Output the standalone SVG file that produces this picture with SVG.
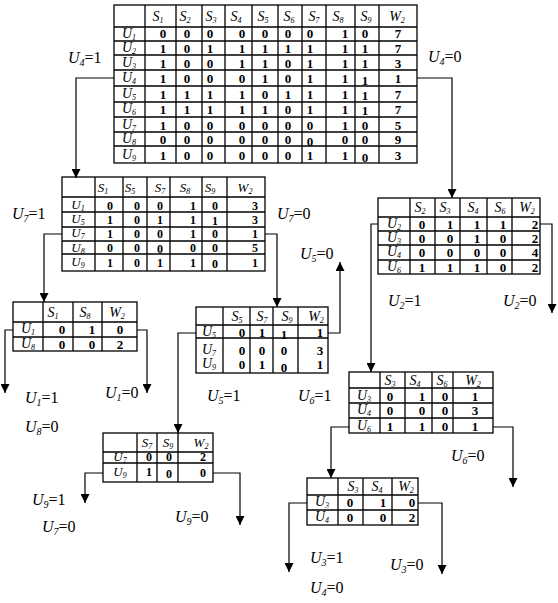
<svg xmlns="http://www.w3.org/2000/svg" width="558" height="603" viewBox="0 0 558 603">
<style>
.t{fill:none;stroke:#000;stroke-width:1.3}
.n{font-family:"Liberation Serif",serif;font-weight:bold;font-size:13px;text-anchor:middle}
.h{font-family:"Liberation Serif",serif;font-style:italic;font-size:14px;text-anchor:middle}
.s{font-size:8px}
#table2 .n,#table7 .n{font-size:12px}
#table2 .h,#table7 .h{font-size:13px}
#table2 .h .s,#table7 .h .s{font-size:8px}
.l{font-family:"Liberation Serif",serif;font-size:16px}
.l .i{font-style:italic}
.l .s{font-size:10px;font-style:italic}
.c{fill:none;stroke:#000;stroke-width:1.2;marker-end:url(#a)}
</style>
<defs>
<marker id="a" markerUnits="userSpaceOnUse" markerWidth="9" markerHeight="9" refX="9" refY="4.5" orient="auto" viewBox="0 0 9 9"><path d="M0,0L9,4.5L0,9z" fill="#000"/></marker>
</defs>
<rect width="558" height="603" fill="#fff"/>

<g id="connectors">
<path class="c" d="M114,78H76V178"/>
<path class="c" d="M417,78H452V198"/>
<path class="c" d="M62,234H44V302"/>
<path class="c" d="M265,234H277V307"/>
<path class="c" d="M378,224H371V372"/>
<path class="c" d="M540,224H552V313"/>
<path class="c" d="M13,330H5V393"/>
<path class="c" d="M137,330H147V393"/>
<path class="c" d="M196,333H178V433"/>
<path class="c" d="M328,333H340V262"/>
<path class="c" d="M349,427H331V478"/>
<path class="c" d="M493,427H513V487"/>
<path class="c" d="M103,473H85V503"/>
<path class="c" d="M213,473H240V525"/>
<path class="c" d="M307,503H289V572"/>
<path class="c" d="M418,503H442V574"/>
</g>

<g id="labels">
<text class="l" x="68" y="63"><tspan class="i">U</tspan><tspan class="s" dy="3">4</tspan><tspan dy="-3">=1</tspan></text>
<text class="l" x="428" y="62"><tspan class="i">U</tspan><tspan class="s" dy="3">4</tspan><tspan dy="-3">=0</tspan></text>
<text class="l" x="12" y="219"><tspan class="i">U</tspan><tspan class="s" dy="3">7</tspan><tspan dy="-3">=1</tspan></text>
<text class="l" x="277" y="219"><tspan class="i">U</tspan><tspan class="s" dy="3">7</tspan><tspan dy="-3">=0</tspan></text>
<text class="l" x="388" y="306"><tspan class="i">U</tspan><tspan class="s" dy="3">2</tspan><tspan dy="-3">=1</tspan></text>
<text class="l" x="503" y="306"><tspan class="i">U</tspan><tspan class="s" dy="3">2</tspan><tspan dy="-3">=0</tspan></text>
<text class="l" x="300" y="259"><tspan class="i">U</tspan><tspan class="s" dy="3">5</tspan><tspan dy="-3">=0</tspan></text>
<text class="l" x="25" y="403"><tspan class="i">U</tspan><tspan class="s" dy="3">1</tspan><tspan dy="-3">=1</tspan></text>
<text class="l" x="25" y="432"><tspan class="i">U</tspan><tspan class="s" dy="3">8</tspan><tspan dy="-3">=0</tspan></text>
<text class="l" x="105" y="398"><tspan class="i">U</tspan><tspan class="s" dy="3">1</tspan><tspan dy="-3">=0</tspan></text>
<text class="l" x="207" y="401"><tspan class="i">U</tspan><tspan class="s" dy="3">5</tspan><tspan dy="-3">=1</tspan></text>
<text class="l" x="298" y="401"><tspan class="i">U</tspan><tspan class="s" dy="3">6</tspan><tspan dy="-3">=1</tspan></text>
<text class="l" x="451" y="461"><tspan class="i">U</tspan><tspan class="s" dy="3">6</tspan><tspan dy="-3">=0</tspan></text>
<text class="l" x="32" y="505"><tspan class="i">U</tspan><tspan class="s" dy="3">9</tspan><tspan dy="-3">=1</tspan></text>
<text class="l" x="42" y="532"><tspan class="i">U</tspan><tspan class="s" dy="3">7</tspan><tspan dy="-3">=0</tspan></text>
<text class="l" x="175" y="522"><tspan class="i">U</tspan><tspan class="s" dy="3">9</tspan><tspan dy="-3">=0</tspan></text>
<text class="l" x="310" y="563"><tspan class="i">U</tspan><tspan class="s" dy="3">3</tspan><tspan dy="-3">=1</tspan></text>
<text class="l" x="310" y="593"><tspan class="i">U</tspan><tspan class="s" dy="3">4</tspan><tspan dy="-3">=0</tspan></text>
<text class="l" x="390" y="570"><tspan class="i">U</tspan><tspan class="s" dy="3">3</tspan><tspan dy="-3">=0</tspan></text>
</g>

<g id="table1">
<rect class="t" x="114" y="5" width="303" height="158"/>
<path class="t" d="M114,27H417M114,41H417M114,55H417M114,70H417M114,86H417M114,102H417M114,117H417M114,132H417M114,146H417M145,5V163M176,5V163M202,5V163M225,5V163M252,5V163M278,5V163M302,5V163M326,5V163M355,5V163M379,5V163"/>
<text class="h" x="158" y="21">S<tspan class="s" dy="2">1</tspan></text>
<text class="h" x="185" y="21">S<tspan class="s" dy="2">2</tspan></text>
<text class="h" x="211" y="21">S<tspan class="s" dy="2">3</tspan></text>
<text class="h" x="236" y="21">S<tspan class="s" dy="2">4</tspan></text>
<text class="h" x="263" y="21">S<tspan class="s" dy="2">5</tspan></text>
<text class="h" x="289" y="21">S<tspan class="s" dy="2">6</tspan></text>
<text class="h" x="314" y="21">S<tspan class="s" dy="2">7</tspan></text>
<text class="h" x="338" y="21">S<tspan class="s" dy="2">8</tspan></text>
<text class="h" x="366" y="21">S<tspan class="s" dy="2">9</tspan></text>
<text class="h" x="397" y="21">W<tspan class="s" dy="2">2</tspan></text>
<text class="h" x="129" y="38">U<tspan class="s" dy="2">1</tspan></text>
<text class="h" x="129" y="52">U<tspan class="s" dy="2">2</tspan></text>
<text class="h" x="129" y="67">U<tspan class="s" dy="2">3</tspan></text>
<text class="h" x="129" y="82">U<tspan class="s" dy="2">4</tspan></text>
<text class="h" x="129" y="98">U<tspan class="s" dy="2">5</tspan></text>
<text class="h" x="129" y="113">U<tspan class="s" dy="2">6</tspan></text>
<text class="h" x="129" y="129">U<tspan class="s" dy="2">7</tspan></text>
<text class="h" x="129" y="143">U<tspan class="s" dy="2">8</tspan></text>
<text class="h" x="129" y="159">U<tspan class="s" dy="2">9</tspan></text>
<!-- U1 -->
<text class="n" x="163" y="38">0</text><text class="n" x="187" y="38">0</text><text class="n" x="210" y="38">0</text><text class="n" x="242" y="38">0</text><text class="n" x="265" y="38">0</text><text class="n" x="288" y="38">0</text><text class="n" x="310" y="38">0</text><text class="n" x="345" y="38">1</text><text class="n" x="365" y="38">0</text><text class="n" x="398" y="38">7</text>
<!-- U2 -->
<text class="n" x="163" y="53">1</text><text class="n" x="187" y="53">0</text><text class="n" x="210" y="53">1</text><text class="n" x="242" y="53">1</text><text class="n" x="265" y="53">1</text><text class="n" x="288" y="53">1</text><text class="n" x="310" y="53">1</text><text class="n" x="345" y="53">1</text><text class="n" x="365" y="53">1</text><text class="n" x="398" y="53">7</text>
<!-- U3 -->
<text class="n" x="163" y="68">1</text><text class="n" x="187" y="68">0</text><text class="n" x="210" y="68">0</text><text class="n" x="242" y="68">1</text><text class="n" x="265" y="68">1</text><text class="n" x="288" y="68">0</text><text class="n" x="310" y="68">1</text><text class="n" x="345" y="68">1</text><text class="n" x="365" y="68">1</text><text class="n" x="398" y="68">3</text>
<!-- U4 -->
<text class="n" x="163" y="83">1</text><text class="n" x="187" y="83">0</text><text class="n" x="210" y="83">0</text><text class="n" x="242" y="83">0</text><text class="n" x="265" y="83">1</text><text class="n" x="288" y="83">0</text><text class="n" x="310" y="83">1</text><text class="n" x="345" y="83">1</text><text class="n" x="365" y="85">1</text><text class="n" x="398" y="83">1</text>
<!-- U5 -->
<text class="n" x="163" y="99">1</text><text class="n" x="187" y="99">1</text><text class="n" x="210" y="99">1</text><text class="n" x="242" y="99">1</text><text class="n" x="265" y="99">0</text><text class="n" x="288" y="99">1</text><text class="n" x="310" y="99">1</text><text class="n" x="345" y="99">1</text><text class="n" x="365" y="100">1</text><text class="n" x="398" y="99">7</text>
<!-- U6 -->
<text class="n" x="163" y="114">1</text><text class="n" x="187" y="114">1</text><text class="n" x="210" y="114">1</text><text class="n" x="242" y="114">1</text><text class="n" x="265" y="114">1</text><text class="n" x="288" y="114">0</text><text class="n" x="310" y="114">1</text><text class="n" x="345" y="114">1</text><text class="n" x="365" y="115">1</text><text class="n" x="398" y="114">7</text>
<!-- U7 -->
<text class="n" x="163" y="130">1</text><text class="n" x="187" y="130">0</text><text class="n" x="210" y="130">0</text><text class="n" x="242" y="130">0</text><text class="n" x="265" y="130">0</text><text class="n" x="288" y="130">0</text><text class="n" x="310" y="130">0</text><text class="n" x="345" y="130">1</text><text class="n" x="365" y="130">0</text><text class="n" x="398" y="130">5</text>
<!-- U8 -->
<text class="n" x="163" y="144">0</text><text class="n" x="187" y="144">0</text><text class="n" x="210" y="144">0</text><text class="n" x="242" y="144">0</text><text class="n" x="265" y="144">0</text><text class="n" x="288" y="144">0</text><text class="n" x="310" y="146">0</text><text class="n" x="345" y="144">0</text><text class="n" x="365" y="144">0</text><text class="n" x="398" y="144">9</text>
<!-- U9 -->
<text class="n" x="163" y="160">1</text><text class="n" x="187" y="160">0</text><text class="n" x="210" y="160">0</text><text class="n" x="242" y="160">0</text><text class="n" x="265" y="160">0</text><text class="n" x="288" y="160">0</text><text class="n" x="310" y="160">1</text><text class="n" x="345" y="160">1</text><text class="n" x="365" y="162">0</text><text class="n" x="398" y="160">3</text>
</g>

<g id="table2">
<rect class="t" x="62" y="177" width="203" height="94"/>
<path class="t" d="M62,197H265M62,212H265M62,227H265M62,241H265M62,254H265M95,177V271M123,177V271M147,177V271M170,177V271M202,177V271M227,177V271"/>
<text class="h" x="103" y="192">S<tspan class="s" dy="2">1</tspan></text>
<text class="h" x="130" y="192">S<tspan class="s" dy="2">5</tspan></text>
<text class="h" x="160" y="192">S<tspan class="s" dy="2">7</tspan></text>
<text class="h" x="185" y="192">S<tspan class="s" dy="2">8</tspan></text>
<text class="h" x="210" y="192">S<tspan class="s" dy="2">9</tspan></text>
<text class="h" x="245" y="192">W<tspan class="s" dy="2">2</tspan></text>
<text class="h" x="78" y="209">U<tspan class="s" dy="2">1</tspan></text>
<text class="h" x="78" y="223">U<tspan class="s" dy="2">5</tspan></text>
<text class="h" x="78" y="237">U<tspan class="s" dy="2">7</tspan></text>
<text class="h" x="78" y="252">U<tspan class="s" dy="2">8</tspan></text>
<text class="h" x="78" y="266">U<tspan class="s" dy="2">9</tspan></text>
<text class="n" x="110" y="210">0</text><text class="n" x="137" y="210">0</text><text class="n" x="160" y="210">0</text><text class="n" x="193" y="210">1</text><text class="n" x="215" y="210">0</text><text class="n" x="255" y="210">3</text>
<text class="n" x="110" y="224">1</text><text class="n" x="137" y="224">0</text><text class="n" x="160" y="224">1</text><text class="n" x="193" y="224">1</text><text class="n" x="215" y="225">1</text><text class="n" x="255" y="224">3</text>
<text class="n" x="110" y="238">1</text><text class="n" x="137" y="238">0</text><text class="n" x="160" y="238">0</text><text class="n" x="193" y="238">1</text><text class="n" x="215" y="238">0</text><text class="n" x="255" y="238">1</text>
<text class="n" x="110" y="252">0</text><text class="n" x="137" y="252">0</text><text class="n" x="160" y="253">0</text><text class="n" x="193" y="252">0</text><text class="n" x="215" y="252">0</text><text class="n" x="255" y="252">5</text>
<text class="n" x="110" y="267">1</text><text class="n" x="137" y="267">0</text><text class="n" x="160" y="267">1</text><text class="n" x="193" y="267">1</text><text class="n" x="215" y="268">0</text><text class="n" x="255" y="267">1</text>
</g>

<g id="table3">
<rect class="t" x="378" y="198" width="162" height="76"/>
<path class="t" d="M378,217H540M378,231H540M378,245H540M378,260H540M410,198V274M435,198V274M460,198V274M487,198V274M512,198V274"/>
<text class="h" x="420" y="212">S<tspan class="s" dy="2">2</tspan></text>
<text class="h" x="445" y="212">S<tspan class="s" dy="2">3</tspan></text>
<text class="h" x="473" y="212">S<tspan class="s" dy="2">4</tspan></text>
<text class="h" x="500" y="212">S<tspan class="s" dy="2">6</tspan></text>
<text class="h" x="527" y="212">W<tspan class="s" dy="2">2</tspan></text>
<text class="h" x="394" y="228">U<tspan class="s" dy="2">2</tspan></text>
<text class="h" x="394" y="242">U<tspan class="s" dy="2">3</tspan></text>
<text class="h" x="394" y="256">U<tspan class="s" dy="2">4</tspan></text>
<text class="h" x="394" y="271">U<tspan class="s" dy="2">6</tspan></text>
<text class="n" x="422" y="229">0</text><text class="n" x="450" y="229">1</text><text class="n" x="477" y="229">1</text><text class="n" x="503" y="229">1</text><text class="n" x="535" y="229">2</text>
<text class="n" x="422" y="243">0</text><text class="n" x="450" y="243">0</text><text class="n" x="477" y="243">1</text><text class="n" x="503" y="243">0</text><text class="n" x="535" y="243">2</text>
<text class="n" x="422" y="257">0</text><text class="n" x="450" y="257">0</text><text class="n" x="477" y="257">0</text><text class="n" x="503" y="257">0</text><text class="n" x="535" y="257">4</text>
<text class="n" x="422" y="272">1</text><text class="n" x="450" y="272">1</text><text class="n" x="477" y="272">1</text><text class="n" x="503" y="272">0</text><text class="n" x="535" y="272">2</text>
</g>

<g id="table4">
<rect class="t" x="13" y="302" width="124" height="49"/>
<path class="t" d="M13,322H137M13,337H137M43,302V351M73,302V351M102,302V351"/>
<text class="h" x="53" y="317">S<tspan class="s" dy="2">1</tspan></text>
<text class="h" x="85" y="317">S<tspan class="s" dy="2">8</tspan></text>
<text class="h" x="117" y="317">W<tspan class="s" dy="2">2</tspan></text>
<text class="h" x="28" y="333">U<tspan class="s" dy="2">1</tspan></text>
<text class="h" x="28" y="348">U<tspan class="s" dy="2">8</tspan></text>
<text class="n" x="62" y="334">0</text><text class="n" x="92" y="334">1</text><text class="n" x="120" y="334">0</text>
<text class="n" x="62" y="349">0</text><text class="n" x="92" y="349">0</text><text class="n" x="120" y="349">2</text>
</g>

<g id="table5">
<rect class="t" x="196" y="307" width="132" height="66"/>
<path class="t" d="M196,325H328M196,338H328M223,307V373M250,307V373M273,307V373M298,307V373"/>
<text class="h" x="237" y="321">S<tspan class="s" dy="2">5</tspan></text>
<text class="h" x="262" y="321">S<tspan class="s" dy="2">7</tspan></text>
<text class="h" x="287" y="321">S<tspan class="s" dy="2">9</tspan></text>
<text class="h" x="316" y="321">W<tspan class="s" dy="2">2</tspan></text>
<text class="h" x="209" y="336">U<tspan class="s" dy="2">5</tspan></text>
<text class="h" x="209" y="354">U<tspan class="s" dy="2">7</tspan></text>
<text class="h" x="209" y="368">U<tspan class="s" dy="2">9</tspan></text>
<text class="n" x="242" y="337">0</text><text class="n" x="262" y="337">1</text><text class="n" x="284" y="339">1</text><text class="n" x="320" y="337">1</text>
<text class="n" x="242" y="355">0</text><text class="n" x="262" y="355">0</text><text class="n" x="284" y="355">0</text><text class="n" x="320" y="355">3</text>
<text class="n" x="242" y="369">0</text><text class="n" x="262" y="369">1</text><text class="n" x="284" y="372">0</text><text class="n" x="320" y="369">1</text>
</g>

<g id="table6">
<rect class="t" x="349" y="372" width="144" height="61"/>
<path class="t" d="M349,388H493M349,403H493M349,418H493M380,372V433M405,372V433M432,372V433M453,372V433"/>
<text class="h" x="390" y="385">S<tspan class="s" dy="2">3</tspan></text>
<text class="h" x="415" y="385">S<tspan class="s" dy="2">4</tspan></text>
<text class="h" x="442" y="385">S<tspan class="s" dy="2">6</tspan></text>
<text class="h" x="473" y="385">W<tspan class="s" dy="2">2</tspan></text>
<text class="h" x="364" y="400">U<tspan class="s" dy="2">3</tspan></text>
<text class="h" x="364" y="414">U<tspan class="s" dy="2">4</tspan></text>
<text class="h" x="364" y="430">U<tspan class="s" dy="2">6</tspan></text>
<text class="n" x="390" y="401">0</text><text class="n" x="422" y="401">1</text><text class="n" x="445" y="401">0</text><text class="n" x="475" y="401">1</text>
<text class="n" x="390" y="415">0</text><text class="n" x="422" y="415">0</text><text class="n" x="445" y="415">0</text><text class="n" x="475" y="415">3</text>
<text class="n" x="390" y="431">1</text><text class="n" x="422" y="431">1</text><text class="n" x="445" y="431">0</text><text class="n" x="475" y="431">1</text>
</g>

<g id="table7">
<rect class="t" x="103" y="433" width="110" height="49"/>
<path class="t" d="M103,452H213M103,463H213M137,433V482M157,433V482M178,433V482"/>
<text class="h" x="147" y="447">S<tspan class="s" dy="2">7</tspan></text>
<text class="h" x="168" y="447">S<tspan class="s" dy="2">9</tspan></text>
<text class="h" x="201" y="447">W<tspan class="s" dy="2">2</tspan></text>
<text class="h" x="120" y="461">U<tspan class="s" dy="2">7</tspan></text>
<text class="h" x="120" y="476">U<tspan class="s" dy="2">9</tspan></text>
<text class="n" x="149" y="461">0</text><text class="n" x="169" y="461">0</text><text class="n" x="203" y="461">2</text>
<text class="n" x="149" y="476">1</text><text class="n" x="169" y="478">0</text><text class="n" x="203" y="477">0</text>
</g>

<g id="table8">
<rect class="t" x="307" y="478" width="111" height="47"/>
<path class="t" d="M307,495H418M307,510H418M338,478V525M363,478V525M392,478V525"/>
<text class="h" x="353" y="491">S<tspan class="s" dy="2">3</tspan></text>
<text class="h" x="377" y="491">S<tspan class="s" dy="2">4</tspan></text>
<text class="h" x="406" y="491">W<tspan class="s" dy="2">2</tspan></text>
<text class="h" x="322" y="506">U<tspan class="s" dy="2">3</tspan></text>
<text class="h" x="322" y="521">U<tspan class="s" dy="2">4</tspan></text>
<text class="n" x="350" y="507">0</text><text class="n" x="383" y="507">1</text><text class="n" x="412" y="507">0</text>
<text class="n" x="350" y="522">0</text><text class="n" x="383" y="522">0</text><text class="n" x="412" y="522">2</text>
</g>
</svg>
